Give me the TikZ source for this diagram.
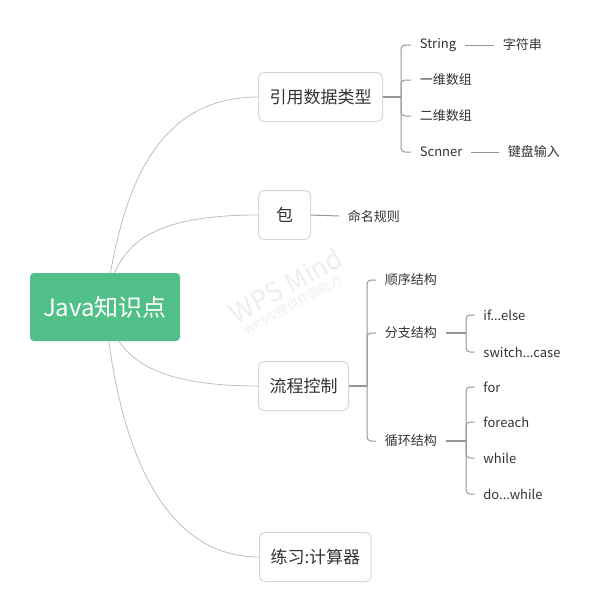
\documentclass[tikz,border=0pt]{standalone}
\usepackage{fontspec}
\setmainfont{Noto Sans CJK SC}
\usetikzlibrary{positioning, backgrounds, calc}
\definecolor{rootgreen}{RGB}{80,192,136}
\definecolor{txtgray}{RGB}{51,51,51}
\definecolor{linegray}{RGB}{150,150,150}
\definecolor{curvegray}{RGB}{190,190,190}
\definecolor{boxgray}{RGB}{214,214,214}
\definecolor{markgray}{RGB}{238,238,238}
\tikzset{
  rootbox/.style={rectangle, fill=rootgreen, rounded corners=3pt,
                  minimum width=112.5pt, minimum height=51pt,
                  text=white, font=\fontsize{18}{22}\selectfont},
  topic/.style={rectangle, draw=boxgray, line width=0.75pt, rounded corners=4pt,
                fill=white, minimum width=39pt, minimum height=36.75pt,
                inner xsep=8.25pt, anchor=west,
                text=txtgray, font=\fontsize{12.75}{15}\selectfont},
  leaf/.style={inner xsep=6.5pt, inner ysep=2pt, anchor=west,
               text=txtgray, font=\fontsize{9.75}{12}\selectfont},
  trunk/.style={draw=curvegray, line width=0.6pt},
  stem/.style={draw=linegray, line width=1.1pt},
  twig/.style={draw=linegray, line width=0.75pt, rounded corners=3pt},
}

\begin{document}
\begin{tikzpicture}[
  x=0.75pt, y=-0.75pt,
  wmark/.style={text=markgray, rotate=29, inner sep=0pt}
]
  \useasboundingbox (0,0) rectangle (600,614);

  \node[wmark, font=\fontsize{20}{24}\selectfont] (wm)  at (286,285) {WPS Mind};
  \node[wmark, font=\fontsize{9}{11}\selectfont]  (wm2) at (293,305) {WPS仅提供作图能力};

  \node[rootbox] (java) at (105,307) {Java知识点};

  \node[topic] (ref)  at (258,97)  {引用数据类型};
  \node[topic] (pkg)  at (258,215) {包};
  \node[topic] (flow) at (258,386) {流程控制};
  \node[topic] (calc) at (259,557) {练习:计算器};

  \begin{scope}[on background layer]
    \draw[trunk] (java.center) .. controls +(15,-107) and +(-108,0) .. (ref.west);
    \draw[trunk] (java.center) .. controls +(10,-57) and +(-118,0) .. (pkg.west);
    \draw[trunk] (java.center) .. controls +(10,43) and +(-118,0) .. (flow.west);
    \draw[trunk] (java.center) .. controls +(10,113) and +(-108,0) .. (calc.west);
  \end{scope}

  \node[leaf] (str)  at (411,45)  {String};
  \node[leaf] (arr1) at (411,80)  {一维数组};
  \node[leaf] (arr2) at (411,116) {二维数组};
  \node[leaf] (scn)  at (411,152) {Scnner};
  \node[leaf] (strv) at (494,45)  {字符串};
  \node[leaf] (kbd)  at (499,152) {键盘输入};

  \node[leaf] (name) at (339,216) {命名规则};

  \node[leaf] (seq)  at (376,280) {顺序结构};
  \node[leaf] (br)   at (376,333) {分支结构};
  \node[leaf] (loop) at (376,441) {循环结构};
  \node[leaf] (ife)  at (474.5,315) {if...else};
  \node[leaf] (sw)   at (474.5,352) {switch...case};
  \node[leaf] (for)  at (474.5,387) {for};
  \node[leaf] (fe)   at (474.5,422) {foreach};
  \node[leaf] (wh)   at (474.5,458) {while};
  \node[leaf] (dw)   at (474.5,494) {do...while};

  \coordinate (refJ)  at (401,97);
  \coordinate (flowJ) at (367,386);
  \coordinate (brJ)   at (466,333);
  \coordinate (loopJ) at (466,441);

  \draw[stem] (ref.east) -- (refJ);
  \foreach \c in {str, arr1, arr2, scn}
    \draw[twig] (refJ) |- (\c.west);
  \draw[twig] (str.east) -- (strv.west);
  \draw[twig] (scn.east) -- (kbd.west);

  \draw[twig] (pkg.east) -- (name.west);

  \draw[stem] (flow.east) -- (flowJ);
  \foreach \c in {seq, br, loop}
    \draw[twig] (flowJ) |- (\c.west);

  \draw[stem] (br.east) -- (brJ);
  \foreach \c in {ife, sw}
    \draw[twig] (brJ) |- (\c.west);

  \draw[stem] (loop.east) -- (loopJ);
  \foreach \c in {for, fe, wh, dw}
    \draw[twig] (loopJ) |- (\c.west);
\end{tikzpicture}
\end{document}
